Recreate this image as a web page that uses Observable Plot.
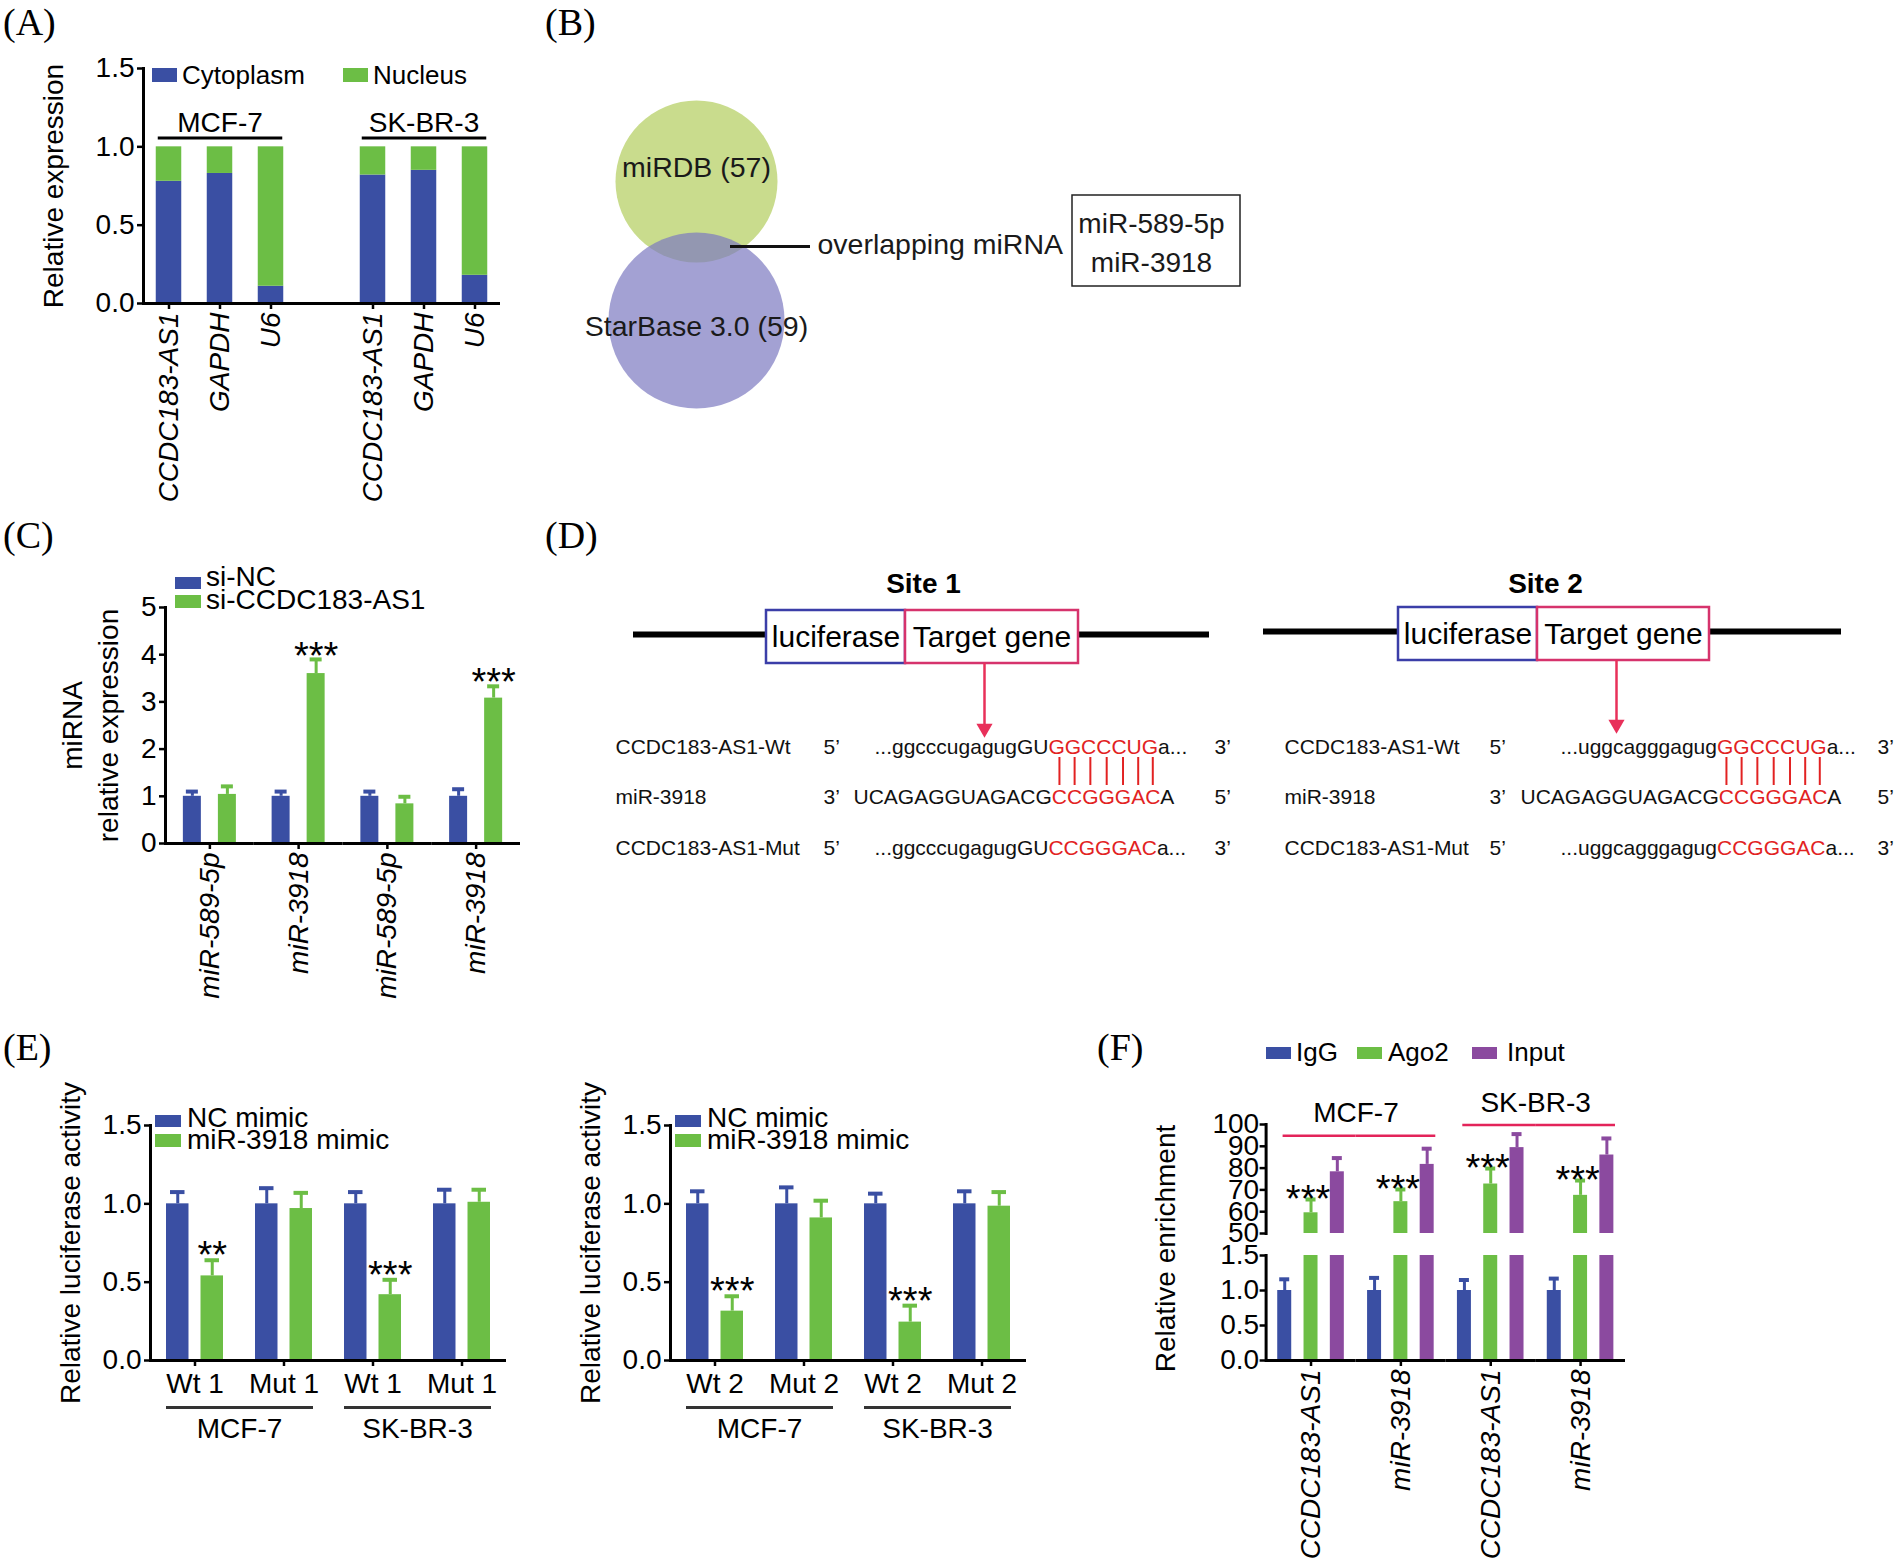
<!DOCTYPE html>
<html><head><meta charset="utf-8">
<script src="https://cdn.jsdelivr.net/npm/d3@7"></script>
<script src="https://cdn.jsdelivr.net/npm/@observablehq/plot@0.6"></script>
<style>
html,body{margin:0;padding:0;background:#fff;}
#root{position:relative;width:1900px;height:1565px;overflow:hidden;background:#fff;}
.ital [aria-label$="x-axis tick label"] text{font-style:italic;}
</style></head><body><div id="root"></div>
<script>
// ================= DATA =================
// (A) subcellular fractionation
const cellLinesA = ["MCF-7", "SK-BR-3"];
const genesA = ["CCDC183-AS1", "GAPDH", "U6"];
const fractionsA = ["Cytoplasm", "Nucleus"];
const cytoplasmMCF7 = [0.78, 0.83, 0.11];
const nucleusMCF7 = [0.22, 0.17, 0.89];
const cytoplasmSKBR3 = [0.82, 0.85, 0.18];
const nucleusSKBR3 = [0.18, 0.15, 0.82];

// (B) Venn
const vennSets = ["miRDB", "StarBase 3.0"];
const vennCounts = [57, 59];
const overlapMirnas = ["miR-589-5p", "miR-3918"];

// (C) miRNA expression
const mirnasC = ["miR-589-5p", "miR-3918", "miR-589-5p", "miR-3918"];
const seriesC = ["si-NC", "si-CCDC183-AS1"];
const siNC = [1.0, 1.0, 1.0, 1.0];
const siNCErr = [0.1, 0.1, 0.1, 0.15];
const siCCDC = [1.04, 3.6, 0.84, 3.08];
const siCCDCErr = [0.17, 0.3, 0.15, 0.25];
const starsC = ["", "***", "", "***"];

// (D) binding sites
const siteNames = ["Site 1", "Site 2"];
const rowNamesD = ["CCDC183-AS1-Wt", "miR-3918", "CCDC183-AS1-Mut"];
const seqSite1 = [["...ggcccugagugGU", "GGCCCUG", "a..."], ["UCAGAGGUAGACG", "CCGGGAC", "A"], ["...ggcccugagugGU", "CCGGGAC", "a..."]];
const seqSite2 = [["...uggcagggagug", "GGCCCUG", "a..."], ["UCAGAGGUAGACG", "CCGGGAC", "A"], ["...uggcagggagug", "CCGGGAC", "a..."]];
const endsD = [["5\u2019", "3\u2019"], ["3\u2019", "5\u2019"], ["5\u2019", "3\u2019"]];

// (E) luciferase
const seriesE = ["NC mimic", "miR-3918 mimic"];
const cellLinesE = ["MCF-7", "MCF-7", "SK-BR-3", "SK-BR-3"];
const groupsE1 = ["Wt 1", "Mut 1", "Wt 1", "Mut 1"];
const ncE1 = [1.0, 1.0, 1.0, 1.0];
const ncErrE1 = [0.075, 0.10, 0.075, 0.09];
const mimicE1 = [0.54, 0.97, 0.42, 1.01];
const mimicErrE1 = [0.10, 0.10, 0.095, 0.08];
const starsE1 = ["**", "", "***", ""];
const groupsE2 = ["Wt 2", "Mut 2", "Wt 2", "Mut 2"];
const ncE2 = [1.0, 1.0, 1.0, 1.0];
const ncErrE2 = [0.08, 0.105, 0.065, 0.08];
const mimicE2 = [0.315, 0.91, 0.245, 0.985];
const mimicErrE2 = [0.095, 0.11, 0.105, 0.09];
const starsE2 = ["***", "", "***", ""];

// (F) RIP
const targetsF = ["CCDC183-AS1", "miR-3918", "CCDC183-AS1", "miR-3918"];
const cellLinesF = ["MCF-7", "MCF-7", "SK-BR-3", "SK-BR-3"];
const seriesF = ["IgG", "Ago2", "Input"];
const iggF = [1.0, 1.0, 1.0, 1.0];
const iggErrF = [0.16, 0.18, 0.15, 0.17];
const ago2F = [59.5, 64.6, 72.7, 67.5];
const ago2ErrF = [6.1, 5.6, 7.1, 6.8];
const inputF = [78.3, 81.7, 89.4, 86.0];
const inputErrF = [6.3, 7.2, 6.2, 7.6];
const starsF = ["***", "***", "***", "***"];

// ================= STYLE / HELPERS =================
const BLUE = "#3a4fa3", GREEN = "#6cbe45", PURPLE = "#8b4a9f";
const RED_LINE = "#e3245a", RED_TXT = "#e22222", ARROW = "#e8305a";
const SANS = "'Liberation Sans', Arial, Helvetica, sans-serif";
const SERIF = "'Liberation Serif', 'Times New Roman', serif";
const root = document.getElementById("root");
const baseStyle = {fontFamily: SANS, fontSize: "28px", color: "#000", background: "transparent", overflow: "visible"};

function place(node, left, top) {
  node.style.position = "absolute";
  node.style.left = left + "px";
  node.style.top = top + "px";
  root.appendChild(node);
  return node;
}
function htmlText(text, x, baseline, size, opts = {}) {
  const fam = opts.family || SANS;
  const asc = fam === SERIF ? 0.8375 : 0.8465;
  const d = document.createElement("div");
  d.textContent = text;
  d.style.fontFamily = fam;
  d.style.fontSize = size + "px";
  d.style.lineHeight = size + "px";
  d.style.whiteSpace = "nowrap";
  d.style.color = opts.color || "#000";
  return place(d, x, baseline - asc * size);
}
function swatch(color, x, y, w, h) {
  const d = document.createElement("div");
  d.style.width = w + "px";
  d.style.height = h + "px";
  d.style.background = color;
  return place(d, x, y);
}
function errMarks(rows, capInset, fxKey = "key") {
  return [
    Plot.ruleX(rows, {fx: fxKey, x: "series", y1: "value", y2: d => d.value + d.err, stroke: "series", strokeWidth: 3}),
    Plot.tickY(rows, {fx: fxKey, x: "series", y: d => d.value + d.err, stroke: "series", strokeWidth: 4, insetLeft: capInset, insetRight: capInset})
  ];
}
function yTitle(text, dx, dy = 0) {
  return Plot.text([text], {frameAnchor: "left", textAnchor: "middle", rotate: -90, dx, dy, fontSize: 28, facetAnchor: "left"});
}
const lab = k => k.split("|")[1];

// ================= (A) =================
const keysA = [];
cellLinesA.forEach((c, i) => { genesA.forEach(g => keysA.push(c + "|" + g)); if (i === 0) keysA.push("gap|"); });
const cytoA = [cytoplasmMCF7, cytoplasmSKBR3], nucA = [nucleusMCF7, nucleusSKBR3];
const rowsA = [];
cellLinesA.forEach((c, i) => genesA.forEach((g, j) => {
  rowsA.push({key: c + "|" + g, part: fractionsA[0], value: cytoA[i][j]});
  rowsA.push({key: c + "|" + g, part: fractionsA[1], value: nucA[i][j]});
}));
const groupA = cellLinesA.map(c => ({cell: c, first: c + "|" + genesA[0], mid: c + "|" + genesA[1], last: c + "|" + genesA[2]}));
const plotA = Plot.plot({
  width: 520, height: 510, marginLeft: 143, marginRight: 20, marginTop: 68, marginBottom: 207,
  className: "ital", style: baseStyle,
  x: {type: "band", domain: keysA, paddingInner: 0.5, paddingOuter: 0.25, round: false, axis: null},
  y: {domain: [0, 1.5], axis: null},
  color: {domain: fractionsA, range: [BLUE, GREEN]},
  marks: [
    Plot.barY(rowsA, {x: "key", y: "value", fill: "part"}),
    Plot.ruleY([0], {strokeWidth: 3}),
    Plot.frame({anchor: "left", strokeWidth: 3}),
    Plot.axisY({ticks: [0, 0.5, 1, 1.5], tickFormat: ".1f", tickSize: 6, tickPadding: 3, strokeWidth: 2.5, label: null}),
    Plot.axisX({ticks: keysA.filter(k => !k.startsWith("gap")), tickFormat: lab, tickRotate: -90, tickSize: 6, tickPadding: 3, strokeWidth: 2.5, label: null, fontStyle: "italic"}),
    Plot.text(groupA, {x: "mid", y: 1.15, text: "cell", fontSize: 28}),
    Plot.ruleY(groupA, {x1: "first", x2: "last", y: 1.057, strokeWidth: 3, insetLeft: 2, insetRight: 1}),
    yTitle("Relative expression", -89)
  ]
});
place(plotA, 0, 0);

// ================= (B) =================
const VENN_LAYOUT = [
  {cx: 696, cy: 181, labelY: 167, fill: "#c9dc8d"},
  {cx: 696, cy: 320, labelY: 326, fill: "#7c79c1"}
];
const vennRows = vennSets.map((name, i) => ({name, count: vennCounts[i], ...VENN_LAYOUT[i]}));
const BOX_B = {x1: 1072, x2: 1240, y1: 195, y2: 286, textX: 1151, textY: [224, 263]};
const plotB = Plot.plot({
  width: 720, height: 380, margin: 0, style: baseStyle,
  x: {domain: [540, 1260], range: [0, 720], axis: null},
  y: {domain: [60, 440], range: [0, 380], axis: null},
  marks: [
    Plot.dot(vennRows.slice(0, 1), {x: "cx", y: "cy", r: 81, fill: "fill", stroke: null}),
    Plot.dot(vennRows.slice(1, 2), {x: "cx", y: "cy", r: 88, fill: "fill", fillOpacity: 0.7, stroke: null}),
    Plot.text(vennRows, {x: "cx", y: "labelY", text: d => `${d.name} (${d.count})`, fill: "#1a1a1a", fontSize: 28.5}),
    Plot.ruleY([246], {x1: 730, x2: 810, strokeWidth: 3, stroke: "#111"}),
    Plot.text(["overlapping miRNA"], {x: 817, y: 244, textAnchor: "start", fontSize: 28.5, fill: "#1a1a1a"}),
    Plot.rect([BOX_B], {x1: "x1", x2: "x2", y1: "y1", y2: "y2", fill: "none", stroke: "#222", strokeWidth: 1.5}),
    Plot.text(overlapMirnas, {x: BOX_B.textX, y: (d, i) => BOX_B.textY[i], fontSize: 28, fill: "#1a1a1a"})
  ]
});
place(plotB, 540, 60);

// ================= (C) =================
const keysC = mirnasC.map((m, i) => i + "|" + m);
const rowsC = [];
keysC.forEach((k, i) => {
  rowsC.push({key: k, series: seriesC[0], value: siNC[i], err: siNCErr[i], star: ""});
  rowsC.push({key: k, series: seriesC[1], value: siCCDC[i], err: siCCDCErr[i], star: starsC[i]});
});
const plotC = Plot.plot({
  width: 540, height: 460, marginLeft: 165, marginRight: 20, marginTop: 47, marginBottom: 177,
  className: "ital", style: baseStyle,
  fx: {domain: keysC, padding: 0, round: false, axis: null},
  x: {domain: seriesC, paddingInner: 0.486, paddingOuter: 0.51, round: false, axis: null},
  y: {domain: [0, 5], axis: null},
  color: {domain: seriesC, range: [BLUE, GREEN]},
  marks: [
    Plot.barY(rowsC, {fx: "key", x: "series", y: "value", fill: "series"}),
    ...errMarks(rowsC, 3),
    Plot.text(rowsC.filter(d => d.star), {fx: "key", x: "series", y: d => d.value + d.err, text: "star", fontSize: 38, dy: -3}),
    Plot.ruleY([0], {strokeWidth: 3}),
    Plot.frame({anchor: "left", strokeWidth: 3, facetAnchor: "left"}),
    Plot.axisY({ticks: [0, 1, 2, 3, 4, 5], tickFormat: "d", tickSize: 6, tickPadding: 3, strokeWidth: 2.5, label: null, facetAnchor: "left"}),
    Plot.axisFx({anchor: "bottom", tickFormat: lab, tickRotate: -90, tickSize: 6, tickPadding: 3, strokeWidth: 2.5, label: null, fontStyle: "italic"}),
    yTitle("miRNA", -92),
    yTitle("relative expression", -56)
  ]
});
place(plotC, 0, 560);

// ================= (D) =================
const D_LAYOUT = [
  {titleX: 923, lineX1: 633, lineX2: 1209, lineY: 634, boxY1: 610, boxY2: 663, lucX1: 766, lucX2: 905, tgtX2: 1078, arrowX: 984, arrowY2: 734, labelX: 615, primeX: 823, seqX: [874, 853, 874], endX: 1214},
  {titleX: 1545, lineX1: 1263, lineX2: 1841, lineY: 631, boxY1: 607, boxY2: 660, lucX1: 1398, lucX2: 1537, tgtX2: 1709, arrowX: 1616, arrowY2: 730, labelX: 1284, primeX: 1489, seqX: [1560, 1520, 1560], endX: 1877}
];
const D_ROW_Y = [747, 797, 848];
const ctx = document.createElement("canvas").getContext("2d");
ctx.font = "21px 'Liberation Sans'";
const tw = s => ctx.measureText(s).width;
const seqsD = [seqSite1, seqSite2];
const textD = [], pairD = [];
D_LAYOUT.forEach((L, s) => {
  rowNamesD.forEach((name, r) => {
    textD.push({text: name, x: L.labelX, y: D_ROW_Y[r], red: false});
    textD.push({text: endsD[r][0], x: L.primeX, y: D_ROW_Y[r], red: false});
    textD.push({text: endsD[r][1], x: L.endX, y: D_ROW_Y[r], red: false});
    let x = L.seqX[r];
    seqsD[s][r].forEach((part, p) => {
      textD.push({text: part, x, y: D_ROW_Y[r], red: p === 1});
      if (r === 1 && p === 1) {
        for (let k = 0; k < part.length; k++) pairD.push({x: x + tw(part.slice(0, k)) + tw(part[k]) / 2});
      }
      x += tw(part);
    });
  });
});
const plotD = Plot.plot({
  width: 1360, height: 330, margin: 0, style: baseStyle,
  x: {domain: [540, 1900], range: [0, 1360], axis: null},
  y: {domain: [540, 870], range: [0, 330], axis: null},
  marks: [
    Plot.ruleY(D_LAYOUT, {x1: "lineX1", x2: "lineX2", y: "lineY", strokeWidth: 6, stroke: "#000"}),
    Plot.rect(D_LAYOUT, {x1: "lucX1", x2: "lucX2", y1: "boxY1", y2: "boxY2", fill: "#fff", stroke: "#3b3ea8", strokeWidth: 2.5}),
    Plot.rect(D_LAYOUT, {x1: "lucX2", x2: "tgtX2", y1: "boxY1", y2: "boxY2", fill: "#fff", stroke: "#d6336c", strokeWidth: 2.5}),
    Plot.text(D_LAYOUT, {x: d => (d.lucX1 + d.lucX2) / 2, y: d => (d.boxY1 + d.boxY2) / 2, text: () => "luciferase", fontSize: 30}),
    Plot.text(D_LAYOUT, {x: d => (d.lucX2 + d.tgtX2) / 2, y: d => (d.boxY1 + d.boxY2) / 2, text: () => "Target gene", fontSize: 30}),
    Plot.text(D_LAYOUT, {x: "titleX", y: 584, text: (d, i) => siteNames[i], fontWeight: "bold", fontSize: 28}),
    Plot.ruleX(D_LAYOUT, {x: "arrowX", y1: "boxY2", y2: d => d.arrowY2 - 8, stroke: ARROW, strokeWidth: 2.5}),
    Plot.dot(D_LAYOUT, {x: "arrowX", y: d => d.arrowY2 - 6, symbol: "triangle", r: 6, fill: ARROW, stroke: null, rotate: 180}),
    Plot.ruleX(pairD, {x: "x", y1: 757, y2: 785, stroke: RED_TXT, strokeWidth: 2}),
    Plot.text(textD.filter(d => !d.red), {x: "x", y: "y", text: "text", textAnchor: "start", fontSize: 21, fill: "#111"}),
    Plot.text(textD.filter(d => d.red), {x: "x", y: "y", text: "text", textAnchor: "start", fontSize: 21, fill: RED_TXT})
  ]
});
place(plotD, 540, 540);

// ================= (E) =================
function plotE(groups, nc, ncErr, mimic, mimicErr, stars) {
  const keys = groups.map((g, i) => i + "|" + g);
  const rows = [];
  keys.forEach((k, i) => {
    rows.push({key: k, series: seriesE[0], value: nc[i], err: ncErr[i], star: ""});
    rows.push({key: k, series: seriesE[1], value: mimic[i], err: mimicErr[i], star: stars[i]});
  });
  const cells = [0, 2].map(i => ({key: keys[i], next: keys[i + 1], cell: cellLinesE[i]}));
  return Plot.plot({
    width: 520, height: 495, marginLeft: 150, marginRight: 14, marginTop: 55, marginBottom: 205,
    style: baseStyle,
    fx: {domain: keys, padding: 0, round: false, axis: null},
    x: {domain: seriesE, paddingInner: 0.348, paddingOuter: 0.464, round: false, axis: null},
    y: {domain: [0, 1.5], axis: null},
    color: {domain: seriesE, range: [BLUE, GREEN]},
    marks: [
      Plot.barY(rows, {fx: "key", x: "series", y: "value", fill: "series"}),
      ...errMarks(rows, 4),
      Plot.text(rows.filter(d => d.star), {fx: "key", x: "series", y: d => d.value + d.err, text: "star", fontSize: 38, dy: -4}),
      Plot.ruleY([0], {strokeWidth: 3}),
      Plot.frame({anchor: "left", strokeWidth: 3, facetAnchor: "left"}),
      Plot.axisY({ticks: [0, 0.5, 1, 1.5], tickFormat: ".1f", tickSize: 6, tickPadding: 3, strokeWidth: 2.5, label: null, facetAnchor: "left"}),
      Plot.axisFx({anchor: "bottom", tickFormat: lab, tickSize: 6, tickPadding: 7, strokeWidth: 2.5, label: null}),
      Plot.ruleY(cells, {fx: "key", y: -0.3, strokeWidth: 3, stroke: "#333", insetLeft: 16}),
      Plot.ruleY(cells, {fx: "next", y: -0.3, strokeWidth: 3, stroke: "#333", insetRight: 15}),
      Plot.text(cells, {fx: "key", frameAnchor: "right", y: -0.44, text: "cell", textAnchor: "middle", fontSize: 28}),
      yTitle("Relative luciferase activity", -79)
    ]
  });
}
place(plotE(groupsE1, ncE1, ncErrE1, mimicE1, mimicErrE1, starsE1), 0, 1070);
place(plotE(groupsE2, ncE2, ncErrE2, mimicE2, mimicErrE2, starsE2), 520, 1070);

// ================= (F) =================
const keysF = targetsF.map((t, i) => i + "|" + t);
const rowsF = [];
keysF.forEach((k, i) => {
  rowsF.push({key: k, series: "IgG", value: iggF[i], err: iggErrF[i], star: ""});
  rowsF.push({key: k, series: "Ago2", value: ago2F[i], err: ago2ErrF[i], star: starsF[i]});
  rowsF.push({key: k, series: "Input", value: inputF[i], err: inputErrF[i], star: ""});
});
const F_GROUP_Y = [{line: 94.8, label: 105.4}, {line: 99.8, label: 109.8}];
const cellsF = [0, 2].map((i, j) => ({key: keysF[i], next: keysF[i + 1], cell: cellLinesF[i], lineY: F_GROUP_Y[j].line, labelY: F_GROUP_Y[j].label}));
const commonF = {
  width: 560, marginLeft: 185.6, marginRight: 15, style: baseStyle,
  fx: {domain: keysF, padding: 0, round: false, axis: null},
  x: {domain: seriesF, paddingInner: 0.468, paddingOuter: 0.442, round: false, axis: null},
  color: {domain: seriesF, range: [BLUE, GREEN, PURPLE]}
};
const highF = rowsF.filter(d => d.series !== "IgG");
const plotF1 = Plot.plot({
  ...commonF, height: 170, marginTop: 54, marginBottom: 7,
  y: {domain: [50, 100], axis: null},
  marks: [
    Plot.barY(highF, {fx: "key", x: "series", y1: 50, y2: "value", fill: "series"}),
    ...errMarks(highF, 2),
    Plot.text(highF.filter(d => d.star), {fx: "key", x: "series", y: d => d.value + d.err, text: "star", fontSize: 38, dx: -3, dy: 0}),
    Plot.frame({anchor: "left", strokeWidth: 3, facetAnchor: "left"}),
    Plot.axisY({ticks: [50, 60, 70, 80, 90, 100], tickFormat: "d", tickSize: 6, tickPadding: 1, strokeWidth: 2.5, label: null, facetAnchor: "left"}),
    Plot.ruleY(cellsF, {fx: "key", y: "lineY", strokeWidth: 2.5, stroke: RED_LINE, insetLeft: 17}),
    Plot.ruleY(cellsF, {fx: "next", y: "lineY", strokeWidth: 2.5, stroke: RED_LINE, insetRight: 10}),
    Plot.text(cellsF, {fx: "key", frameAnchor: "right", y: "labelY", text: "cell", textAnchor: "middle", fontSize: 28})
  ]
});
place(plotF1, 1080, 1070);
const plotF2 = Plot.plot({
  ...commonF, height: 320, marginTop: 10, marginBottom: 205, className: "ital",
  y: {domain: [0, 1.5], clamp: true, axis: null},
  marks: [
    Plot.barY(rowsF, {fx: "key", x: "series", y: "value", fill: "series"}),
    ...errMarks(rowsF.filter(d => d.series === "IgG"), 2),
    Plot.ruleY([0], {strokeWidth: 3}),
    Plot.frame({anchor: "left", strokeWidth: 3, facetAnchor: "left"}),
    Plot.axisY({ticks: [0, 0.5, 1, 1.5], tickFormat: ".1f", tickSize: 6, tickPadding: 1, strokeWidth: 2.5, label: null, facetAnchor: "left"}),
    Plot.axisFx({anchor: "bottom", tickFormat: lab, tickRotate: -90, tickSize: 6, tickPadding: 3, strokeWidth: 2.5, label: null, fontStyle: "italic"}),
    yTitle("Relative enrichment", -99.6, -59.5)
  ]
});
place(plotF2, 1080, 1245);

// ================= LEGENDS & PANEL LABELS =================
swatch(BLUE, 152, 68, 25, 14); htmlText(fractionsA[0], 182, 84, 26);
swatch(GREEN, 343, 68, 25, 14); htmlText(fractionsA[1], 373, 84, 26);

swatch(BLUE, 175, 577, 26, 12); htmlText(seriesC[0], 206, 587, 28);
swatch(GREEN, 175, 595, 26, 13); htmlText(seriesC[1], 206, 610, 28);

[[155, 187], [675, 707]].forEach(([bx, tx]) => {
  swatch(BLUE, bx, 1115, 26, 12); htmlText(seriesE[0], tx, 1128, 28);
  swatch(GREEN, bx, 1134, 26, 13); htmlText(seriesE[1], tx, 1150, 28);
});

[[1266, 1296], [1357, 1388], [1472, 1507]].forEach(([bx, tx], i) => {
  swatch([BLUE, GREEN, PURPLE][i], bx, 1047, 25, 12); htmlText(seriesF[i], tx, 1061, 26);
});

[["(A)", 3, 35], ["(B)", 545, 35], ["(C)", 3, 548], ["(D)", 545, 548], ["(E)", 3, 1060], ["(F)", 1097, 1060]]
  .forEach(([t, x, b]) => htmlText(t, x, b, 38, {family: SERIF}));
</script></body></html>
